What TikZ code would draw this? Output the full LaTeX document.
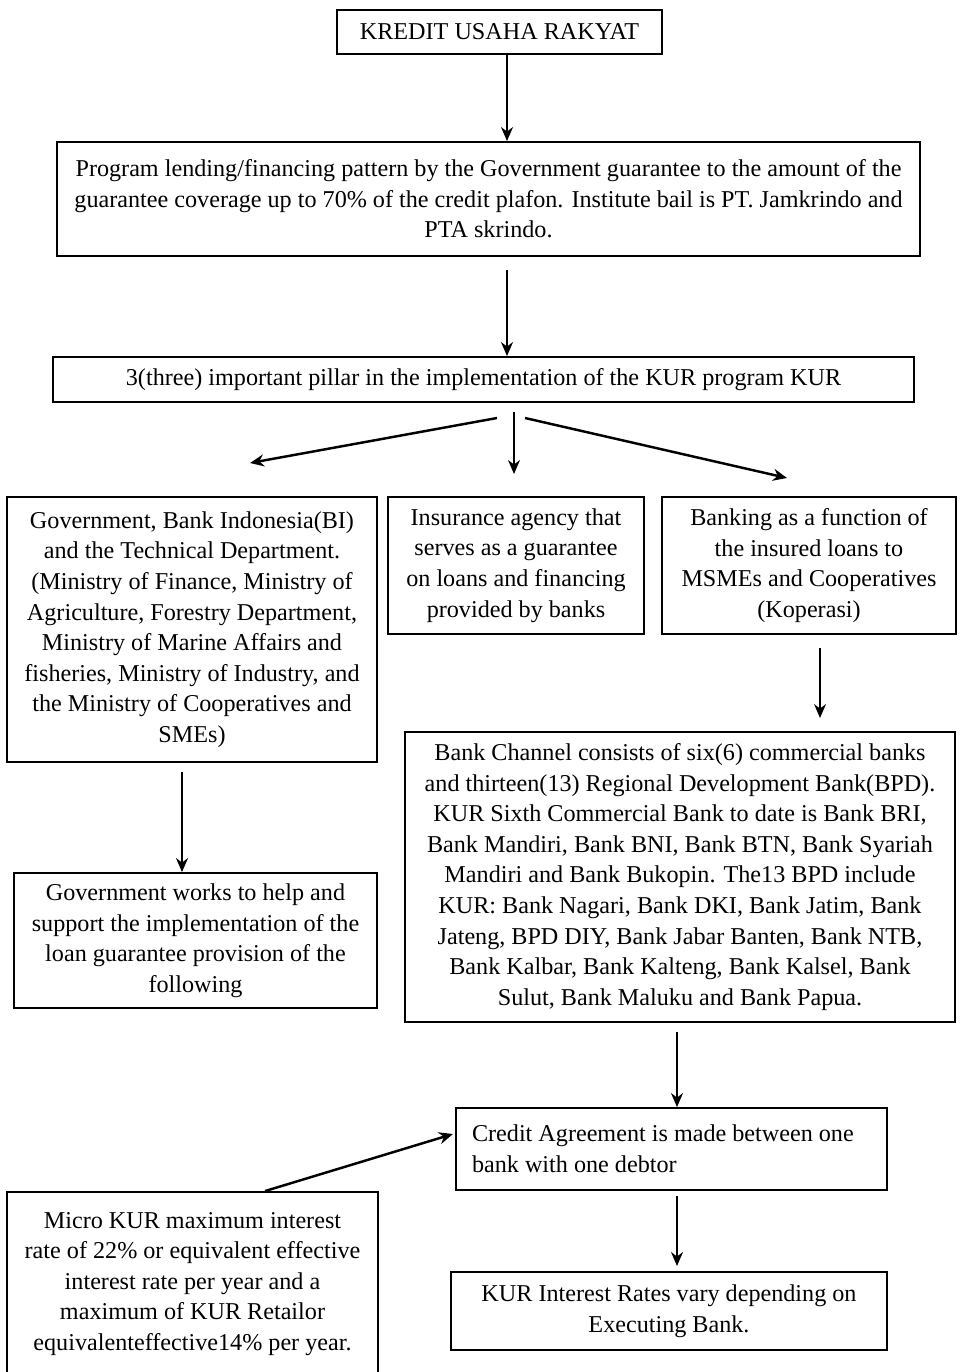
\documentclass[tikz,border=0pt]{standalone}
\usepackage{fontspec}
\setmainfont{Liberation Serif}
\usetikzlibrary{arrows.meta}

\begin{document}
\begin{tikzpicture}[x=0.02cm, y=-0.02cm,
    box/.style={draw, line width=1.1pt, inner sep=0pt, align=center},
    arr/.style={-{Stealth[length=2.8mm, width=2.4mm]}, line width=0.9pt},
    font=\fontsize{13.75}{17.4}\selectfont]
  \useasboundingbox (0,0) rectangle (961,1372);

  % boxes
  \node[box, minimum width=6.5cm, minimum height=0.88cm] (kur) at (499.5,32) {KREDIT USAHA RAKYAT};
  \node[box, minimum width=17.26cm, minimum height=2.28cm] (prog) at (488.5,199)
    {Program lending/financing pattern by the Government guarantee to the amount of the\\
    guarantee coverage up to 70\% of the credit plafon. Institute bail is PT. Jamkrindo and\\
    PTA skrindo.};
  \node[box, minimum width=17.22cm, minimum height=0.9cm] (pillar) at (483.5,379.5)
    {3(three) important pillar in the implementation of the KUR program KUR};
  \node[box, minimum width=7.4cm, minimum height=5.3cm] (gov) at (192,629.5)
    {Government, Bank Indonesia(BI)\\ and the Technical Department.\\
    (Ministry of Finance, Ministry of\\ Agriculture, Forestry Department,\\ Ministry of Marine Affairs and\\
    fisheries, Ministry of Industry, and\\ the Ministry of Cooperatives and\\ SMEs)};
  \node[box, minimum width=5.12cm, minimum height=2.74cm] (ins) at (516,565.5)
    {Insurance agency that\\ serves as a guarantee\\ on loans and financing\\ provided by banks};
  \node[box, minimum width=5.88cm, minimum height=2.74cm] (bank) at (809,565.5)
    {Banking as a function of\\ the insured loans to\\ MSMEs and Cooperatives\\ (Koperasi)};
  \node[box, minimum width=7.26cm, minimum height=2.7cm] (govwork) at (195.5,940.5)
    {Government works to help and\\ support the implementation of the\\ loan guarantee provision of the\\ following};
  \node[box, minimum width=11cm, minimum height=5.8cm] (channel) at (680,877)
    {Bank Channel consists of six(6) commercial banks\\
    and thirteen(13) Regional Development Bank(BPD).\\ KUR Sixth Commercial Bank to date is Bank BRI,\\
    Bank Mandiri, Bank BNI, Bank BTN, Bank Syariah\\ Mandiri and Bank Bukopin. The13 BPD include\\
    KUR: Bank Nagari, Bank DKI, Bank Jatim, Bank\\ Jateng, BPD DIY, Bank Jabar Banten, Bank NTB,\\
    Bank Kalbar, Bank Kalteng, Bank Kalsel, Bank\\ Sulut, Bank Maluku and Bank Papua.};
  \node[box, minimum width=8.62cm, minimum height=1.64cm, align=flush left, text width=7.98cm] (credit) at (671.5,1149)
    {Credit Agreement is made between one\\ bank with one debtor};
  \node[box, minimum width=7.42cm, minimum height=3.68cm] (micro) at (192.5,1284)
    {Micro KUR maximum interest\\ rate of 22\% or equivalent effective\\
    interest rate per year and a\\ maximum of KUR Retailor\\ equivalenteffective14\% per year.};
  \node[box, minimum width=8.72cm, minimum height=1.56cm] (rates) at (669,1311)
    {KUR Interest Rates vary depending on\\ Executing Bank.};

  % arrow ends
  \coordinate (x1) at (507,0);
  \coordinate (t2) at (507,270);
  \coordinate (f1) at (497,418);
  \coordinate (h1) at (250,463);
  \coordinate (f2) at (514,412);
  \coordinate (h2) at (514,474);
  \coordinate (f3) at (525,418);
  \coordinate (h3) at (787,478);
  \coordinate (t4) at (820,648);
  \coordinate (h4) at (820,718);
  \coordinate (t5) at (182,772);
  \coordinate (t6) at (677,1032);
  \coordinate (x7) at (265,0);
  \coordinate (h7) at (453,1134);
  \coordinate (t8) at (677,1196);
  \coordinate (h8) at (677,1266);

  \draw[arr] (kur.south -| x1) -- (prog.north -| x1);
  \draw[arr] (t2) -- (pillar.north -| t2);
  \draw[arr, line width=1.4pt] (f1) -- (h1);
  \draw[arr] (f2) -- (h2);
  \draw[arr, line width=1.4pt] (f3) -- (h3);
  \draw[arr] (t4) -- (h4);
  \draw[arr] (t5) -- (govwork.north -| t5);
  \draw[arr] (t6) -- (credit.north -| t6);
  \draw[arr, line width=1.4pt] (micro.north -| x7) -- (h7);
  \draw[arr] (t8) -- (h8);
\end{tikzpicture}
\end{document}
